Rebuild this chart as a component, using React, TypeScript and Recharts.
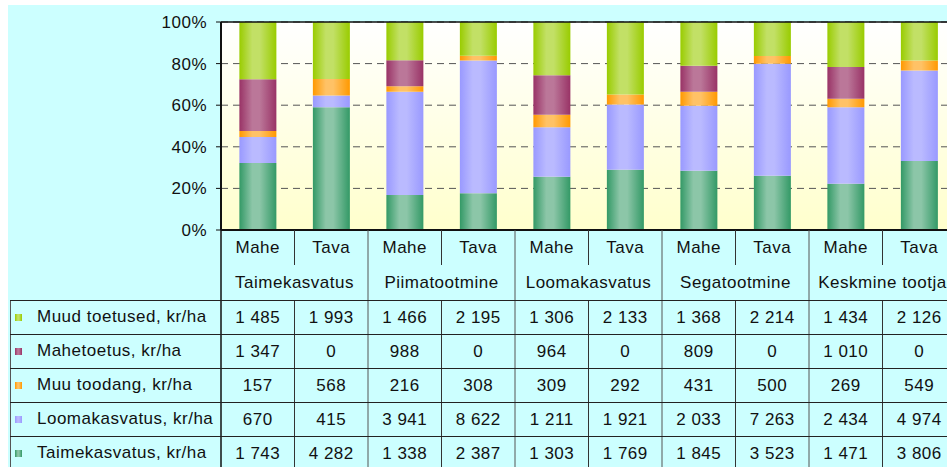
import React from "react";
import { Bar, BarChart, CartesianGrid, ReferenceLine, XAxis, YAxis } from "recharts";

const groups = ["Taimekasvatus", "Piimatootmine", "Loomakasvatus", "Segatootmine", "Keskmine tootja"];
const types = ["Mahe", "Tava"];

const taimekasvatus = [1743, 4282, 1338, 2387, 1303, 1769, 1845, 3523, 1471, 3806];
const loomakasvatus = [670, 415, 3941, 8622, 1211, 1921, 2033, 7263, 2434, 4974];
const muuToodang = [157, 568, 216, 308, 309, 292, 431, 500, 269, 549];
const mahetoetus = [1347, 0, 988, 0, 964, 0, 809, 0, 1010, 0];
const muudToetused = [1485, 1993, 1466, 2195, 1306, 2133, 1368, 2214, 1434, 2126];

const yTicks = [0, 0.2, 0.4, 0.6, 0.8, 1];

// bottom to top in the stack
const series = [
  { key: "taime", name: "Taimekasvatus, kr/ha", values: taimekasvatus, dark: "#339966", light: "#8cc6a8" },
  { key: "looma", name: "Loomakasvatus, kr/ha", values: loomakasvatus, dark: "#9999ff", light: "#babaff" },
  { key: "muu", name: "Muu toodang, kr/ha", values: muuToodang, dark: "#ff9900", light: "#ffc266" },
  { key: "mahe", name: "Mahetoetus, kr/ha", values: mahetoetus, dark: "#993366", light: "#bb7799" },
  { key: "muud", name: "Muud toetused, kr/ha", values: muudToetused, dark: "#99cc00", light: "#c2e066" },
];

const data = groups.flatMap((g, gi) =>
  types.map((t, ti) => {
    const i = gi * 2 + ti;
    const row: Record<string, string | number> = { type: t, group: g };
    series.forEach((s) => (row[s.key] = s.values[i]));
    return row;
  })
);

const W = 948;
const H = 462;
const TOP = 17;
const AXIS_W = 213;
const XAXIS_H = 237;
const BAND = (W - AXIS_W) / data.length;
const PLOT_BOTTOM = H - XAXIS_H;
const ROW_TOP = 295;
const ROW_H = 34;
const FONT = "'Liberation Sans', Arial, sans-serif";
const LS = 0.5;

const tableRows = [...series].reverse();

function fmt(v: number) {
  return String(v).replace(/\B(?=(\d{3})+(?!\d))/g, " ");
}

function TableTick(props: any) {
  const { x, index } = props;
  const i: number = index ?? props.payload?.index ?? 0;
  const d = data[i];
  const half = BAND / 2;
  const isMahe = d.type === "Mahe";
  return (
    <g fontFamily={FONT} fontSize={17} fill="#111" letterSpacing={LS}>
      {i === 0 && <line x1={x - half} x2={x - half} y1={PLOT_BOTTOM} y2={H} stroke="#111" strokeWidth={1.5} />}
      {isMahe ? (
        <>
          <line x1={x + half} x2={x + half} y1={PLOT_BOTTOM} y2={PLOT_BOTTOM + 35} stroke="#333" />
          <line x1={x + half} x2={x + half} y1={ROW_TOP} y2={H} stroke="#333" />
          <text x={x + half} y={PLOT_BOTTOM + 58} textAnchor="middle">
            {d.group}
          </text>
        </>
      ) : (
        <line x1={x + half} x2={x + half} y1={PLOT_BOTTOM} y2={H} stroke="#555" />
      )}
      <text x={x} y={PLOT_BOTTOM + 23} textAnchor="middle">
        {d.type}
      </text>
      {tableRows.map((s, r) => (
        <text key={s.key} x={x} y={ROW_TOP + r * ROW_H + ROW_H / 2 + 6} textAnchor="middle">
          {fmt(s.values[i])}
        </text>
      ))}
    </g>
  );
}

export default function App() {
  return (
    <div
      style={{
        position: "fixed",
        left: 8,
        top: 5,
        width: 939,
        height: H,
        overflow: "hidden",
        background: "#ccffff",
      }}
    >
      <BarChart
        width={W}
        height={H}
        data={data}
        stackOffset="expand"
        barCategoryGap="25%"
        margin={{ top: TOP, right: 0, bottom: 0, left: 0 }}
      >
        <defs>
          <linearGradient id="plotBg" x1="0" y1="0" x2="0" y2="1">
            <stop offset="0" stopColor="#ffffff" />
            <stop offset="1" stopColor="#ffffcc" />
          </linearGradient>
          {series.map((s) => (
            <linearGradient key={s.key} id={`g-${s.key}`} x1="0" y1="0" x2="1" y2="0">
              <stop offset="0" stopColor={s.dark} />
              <stop offset="0.35" stopColor={s.light} />
              <stop offset="0.55" stopColor={s.light} />
              <stop offset="1" stopColor={s.dark} />
            </linearGradient>
          ))}
        </defs>
        <CartesianGrid vertical={false} fill="url(#plotBg)" stroke="#555" strokeDasharray="7 5" />
        <ReferenceLine y={1} stroke="#111" strokeWidth={1.5} />
        <YAxis
          width={AXIS_W}
          domain={[0, 1]}
          ticks={yTicks}
          tickFormatter={(v: number) => `${Math.round(v * 100)}%`}
          tickSize={5}
          tickMargin={9}
          axisLine={{ stroke: "#111", strokeWidth: 2 }}
          tickLine={{ stroke: "#111" }}
          tick={{ fontSize: 17, fontFamily: FONT, fill: "#111", letterSpacing: LS }}
        />
        <XAxis
          dataKey="type"
          height={XAXIS_H}
          interval={0}
          tickSize={0}
          tickLine={false}
          axisLine={{ stroke: "#111", strokeWidth: 2 }}
          tick={<TableTick />}
        />
        {series.map((s) => (
          <Bar key={s.key} dataKey={s.key} name={s.name} stackId="a" fill={`url(#g-${s.key})`} isAnimationActive={false} />
        ))}
      </BarChart>
      <div style={{ position: "absolute", left: 0, top: 0, width: 939, height: H, pointerEvents: "none", fontFamily: FONT, fontSize: 17, letterSpacing: LS, color: "#111" }}>
        <div style={{ position: "absolute", left: 2, top: ROW_TOP, width: 1, height: H - ROW_TOP, background: "#555" }} />
        {tableRows.map((s, r) => (
          <React.Fragment key={s.key}>
            <div style={{ position: "absolute", left: 2, top: ROW_TOP + r * ROW_H, width: 937, height: 1, background: "#222" }} />
            <div
              style={{
                position: "absolute",
                left: 7,
                top: ROW_TOP + r * ROW_H + 14,
                width: 7,
                height: 7,
                background: `linear-gradient(to right, ${s.dark}, ${s.light} 40%, ${s.light} 55%, ${s.dark})`,
              }}
            />
            <div style={{ position: "absolute", left: 29, top: ROW_TOP + r * ROW_H + 7, lineHeight: "20px", whiteSpace: "nowrap" }}>
              {s.name}
            </div>
          </React.Fragment>
        ))}
      </div>
    </div>
  );
}
